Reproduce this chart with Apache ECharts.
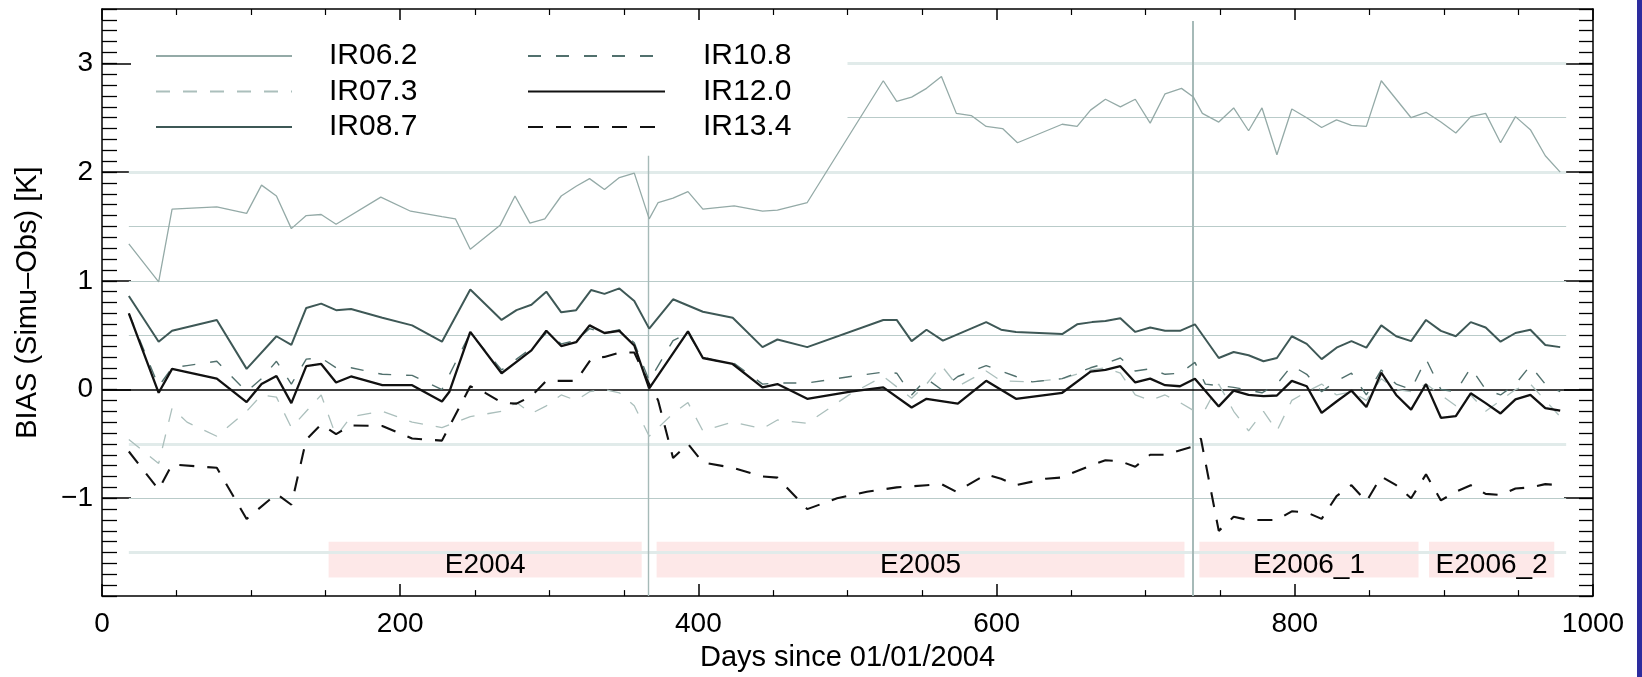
<!DOCTYPE html>
<html><head><meta charset="utf-8">
<script src="https://cdn.jsdelivr.net/npm/echarts@6/dist/echarts.min.js"></script>
<style>html,body{margin:0;padding:0;background:#fff}#c{width:1642px;height:677px}</style>
</head><body><div id="c"></div>
<script>
// ---------- data ----------
const seriesNames = ['IR06.2', 'IR07.3', 'IR08.7', 'IR10.8', 'IR12.0', 'IR13.4'];

const ir062 = [[18,1.34],[38,0.99],[47,1.66],[77,1.68],[97,1.62],[107,1.88],[117,1.78],[127,1.48],[137,1.6],[147,1.61],[157,1.52],[187,1.77],[207,1.64],[228,1.59],[237,1.57],[247,1.29],[267,1.51],[277,1.78],[287,1.53],[297,1.57],[308,1.78],[318,1.87],[327,1.94],[337,1.84],[347,1.95],[357,1.99],[367,1.57],[373,1.72],[383,1.76],[393,1.82],[403,1.66],[424,1.69],[443,1.64],[453,1.65],[473,1.72],[524,2.84],[533,2.65],[543,2.69],[553,2.77],[563,2.88],[573,2.54],[583,2.52],[593,2.42],[604,2.40],[614,2.27],[644,2.44],[654,2.42],[663,2.57],[673,2.67],[683,2.60],[693,2.67],[703,2.45],[713,2.72],[724,2.77],[732,2.69],[738,2.54],[749,2.46],[759,2.59],[769,2.38],[778,2.59],[788,2.16],[798,2.58],[808,2.50],[818,2.41],[828,2.48],[838,2.43],[848,2.42],[858,2.84],[868,2.67],[878,2.50],[888,2.55],[898,2.46],[908,2.36],[918,2.51],[928,2.54],[938,2.27],[948,2.51],[958,2.39],[968,2.15],[978,2.00]];

const ir073 = [[18,-0.46],[38,-0.68],[47,-0.17],[57,-0.3],[77,-0.43],[97,-0.2],[107,-0.05],[117,-0.07],[127,-0.35],[137,-0.2],[147,-0.05],[157,-0.43],[167,-0.25],[188,-0.2],[208,-0.3],[228,-0.35],[247,-0.25],[268,-0.2],[278,-0.12],[288,-0.22],[298,-0.15],[308,-0.05],[318,-0.1],[327,-0.02],[337,0.0],[347,-0.03],[357,-0.15],[367,-0.43],[383,-0.22],[393,-0.12],[403,-0.38],[423,-0.3],[443,-0.36],[453,-0.28],[473,-0.31],[502,-0.04],[524,0.12],[543,-0.08],[553,0.05],[563,0.22],[574,0.03],[593,0.17],[603,0.08],[624,0.07],[644,0.1],[663,0.18],[673,0.2],[683,0.15],[693,-0.05],[703,-0.1],[713,-0.05],[723,-0.12],[733,-0.2],[740,-0.18],[749,0.05],[759,-0.2],[769,-0.38],[779,-0.2],[788,-0.38],[798,-0.1],[808,-0.02],[818,0.05],[828,-0.05],[838,-0.02],[848,-0.1],[858,0.1],[868,0.0],[878,-0.02],[888,0.05],[898,-0.05],[908,-0.15],[918,-0.05],[928,-0.2],[938,-0.1],[948,0.0],[958,0.05],[968,-0.1],[978,-0.25]];

const ir087 = [[18,0.86],[38,0.44],[47,0.54],[77,0.64],[97,0.19],[117,0.49],[127,0.41],[137,0.75],[147,0.79],[157,0.73],[167,0.74],[188,0.66],[208,0.59],[228,0.44],[247,0.92],[268,0.64],[278,0.73],[288,0.78],[298,0.90],[308,0.71],[318,0.73],[328,0.915],[337,0.88],[347,0.93],[357,0.815],[367,0.56],[383,0.83],[403,0.715],[423,0.66],[443,0.39],[453,0.46],[473,0.39],[524,0.64],[533,0.64],[543,0.445],[553,0.55],[564,0.45],[593,0.62],[603,0.55],[613,0.53],[644,0.51],[654,0.60],[664,0.62],[673,0.63],[683,0.655],[693,0.53],[703,0.57],[713,0.54],[723,0.54],[733,0.60],[749,0.29],[759,0.345],[769,0.315],[779,0.26],[788,0.29],[798,0.49],[808,0.42],[818,0.28],[828,0.385],[838,0.445],[848,0.385],[858,0.59],[868,0.49],[878,0.445],[888,0.64],[898,0.54],[908,0.49],[918,0.62],[928,0.57],[938,0.44],[948,0.52],[958,0.55],[968,0.41],[978,0.39]];

const ir108 = [[18,0.70],[38,0.03],[47,0.2],[57,0.22],[67,0.24],[77,0.26],[97,-0.02],[107,0.1],[117,0.26],[127,0.05],[137,0.28],[147,0.29],[157,0.2],[167,0.2],[188,0.14],[208,0.13],[228,0.0],[247,0.52],[268,0.18],[278,0.28],[288,0.38],[298,0.52],[308,0.42],[318,0.45],[327,0.56],[337,0.52],[347,0.55],[357,0.43],[367,0.08],[383,0.45],[393,0.52],[403,0.3],[413,0.26],[423,0.25],[443,0.05],[453,0.06],[473,0.06],[502,0.12],[524,0.16],[533,0.15],[543,-0.05],[553,0.1],[563,0.0],[574,0.12],[593,0.22],[613,0.12],[624,0.07],[644,0.1],[663,0.2],[673,0.24],[683,0.29],[693,0.17],[703,0.19],[713,0.14],[723,0.15],[733,0.25],[740,0.05],[759,0.02],[778,-0.03],[788,0.05],[798,0.22],[808,0.14],[818,-0.02],[828,0.08],[838,0.15],[848,-0.05],[858,0.18],[868,0.05],[878,0.0],[888,0.28],[898,0.0],[908,-0.02],[918,0.2],[928,0.0],[938,-0.05],[948,0.05],[958,0.22],[968,0.05],[978,-0.02]];

const ir120 = [[18,0.70],[38,-0.03],[47,0.19],[77,0.10],[97,-0.115],[107,0.05],[117,0.125],[127,-0.125],[137,0.215],[147,0.235],[157,0.065],[167,0.12],[188,0.04],[208,0.04],[228,-0.11],[233,-0.02],[247,0.53],[268,0.15],[278,0.255],[288,0.36],[298,0.54],[308,0.40],[318,0.435],[327,0.59],[337,0.52],[347,0.54],[357,0.405],[367,0.01],[393,0.535],[403,0.29],[423,0.235],[443,0.02],[453,0.05],[473,-0.085],[502,-0.02],[524,0.02],[543,-0.165],[553,-0.085],[574,-0.13],[593,0.08],[613,-0.085],[644,-0.03],[663,0.165],[673,0.18],[683,0.215],[693,0.065],[703,0.10],[713,0.04],[723,0.03],[733,0.10],[749,-0.155],[759,-0.01],[769,-0.05],[779,-0.06],[788,-0.055],[798,0.08],[808,0.03],[818,-0.215],[828,-0.11],[838,-0.01],[848,-0.16],[858,0.155],[868,-0.05],[878,-0.185],[888,0.05],[898,-0.26],[908,-0.245],[918,-0.035],[928,-0.125],[938,-0.22],[948,-0.09],[958,-0.05],[968,-0.17],[978,-0.195]];

const ir134 = [[18,-0.57],[38,-0.92],[47,-0.69],[77,-0.72],[97,-1.19],[117,-0.96],[127,-1.06],[137,-0.46],[147,-0.32],[157,-0.41],[167,-0.33],[188,-0.335],[208,-0.45],[228,-0.47],[247,0.03],[257,-0.03],[268,-0.12],[278,-0.13],[288,-0.06],[298,0.08],[318,0.08],[328,0.28],[337,0.3],[347,0.34],[357,0.34],[367,0.05],[373,-0.1],[383,-0.63],[393,-0.5],[403,-0.67],[423,-0.72],[443,-0.8],[453,-0.81],[473,-1.1],[493,-1.0],[513,-0.94],[533,-0.9],[553,-0.88],[563,-0.87],[573,-0.94],[593,-0.78],[603,-0.82],[613,-0.88],[633,-0.82],[643,-0.81],[663,-0.7],[673,-0.65],[683,-0.66],[693,-0.71],[703,-0.6],[713,-0.6],[733,-0.52],[737,-0.45],[749,-1.3],[759,-1.17],[769,-1.2],[779,-1.2],[788,-1.2],[798,-1.12],[808,-1.13],[818,-1.19],[828,-0.98],[838,-0.88],[848,-1.03],[858,-0.8],[868,-0.88],[878,-1.0],[888,-0.78],[898,-1.02],[908,-0.94],[918,-0.88],[928,-0.96],[938,-0.97],[948,-0.91],[958,-0.9],[968,-0.87],[978,-0.88]];

const xTickValues = [0, 200, 400, 600, 800, 1000];
const yTickValues = [-1, 0, 1, 2, 3];

// reference (grid) lines: level, first day, last day
const gridLevels = [3, 2.5, 2, 1.5, 1, 0.5, -0.5, -1, -1.5];
const gridFrom   = [500, 500, 18, 18, 18, 18, 18, 18, 18];
const gridTo     = [982, 982, 982, 982, 982, 982, 982, 982, 982];
const gridHeavy  = [true, false, true, false, false, false, true, false, true];

// vertical year separators: day, top value
const sepDays = [366.5, 731.5];
const sepTops = [2.15, 3.39];

// campaign periods
const campaigns  = ['E2004', 'E2005', 'E2006_1', 'E2006_2'];
const campStart  = [152, 372, 736, 890];
const campEnd    = [362, 726, 883, 974];
const campLow = -1.73, campHigh = -1.40;

// ---------- chart ----------
const FONT = 'Liberation Sans';
const chart = echarts.init(document.getElementById('c'), null, {renderer: 'canvas'});

const styles = {
  'IR06.2': {color: '#94aaa7', width: 1.3, type: 'solid'},
  'IR07.3': {color: '#abbfbc', width: 1.3, type: [14, 13]},
  'IR08.7': {color: '#3e5856', width: 2.0, type: 'solid'},
  'IR10.8': {color: '#51706d', width: 1.4, type: [13, 15]},
  'IR12.0': {color: '#111111', width: 2.3, type: 'solid'},
  'IR13.4': {color: '#111111', width: 2.1, type: [15, 13]}
};
const dataMap = {'IR06.2': ir062, 'IR07.3': ir073, 'IR08.7': ir087, 'IR10.8': ir108, 'IR12.0': ir120, 'IR13.4': ir134};

const gridLineData = gridLevels.map((v, i) => [
  {coord: [gridFrom[i], v], lineStyle: gridHeavy[i] ? {color: '#e1ebea', width: 3.2, type: 'solid'} : {color: '#b9cbc9', width: 1.2, type: 'solid'}},
  {coord: [gridTo[i], v]}
]);
const sepData = sepDays.map((d, i) => [
  {coord: [d, sepTops[i]], lineStyle: {color: '#a6bab8', width: i === 0 ? 1.4 : 2, type: 'solid'}},
  {coord: [d, -1.9]}
]);
const zeroLine = [[{coord: [0, 0], lineStyle: {color: '#000', width: 1.5, type: 'solid'}}, {coord: [1000, 0]}]];

const bandData = campaigns.map((n, i) => [
  {name: n, coord: [campStart[i], campHigh]},
  {coord: [campEnd[i], campLow]}
]);

const dataSeries = seriesNames.map(n => ({
  name: n, type: 'line', data: dataMap[n], symbol: 'none', showSymbol: false,
  xAxisIndex: 0, yAxisIndex: 0, z: 5, animation: false,
  lineStyle: {color: styles[n].color, width: styles[n].width, type: styles[n].type},
  itemStyle: {color: styles[n].color}
}));

const minus = v => (v < 0 ? '\u2212' + Math.abs(v) : String(v));

const yCommon = {type: 'value', min: -1.9, max: 3.5, splitLine: {show: false}};
const xCommon = {type: 'value', min: 0, max: 1000, interval: 200, splitLine: {show: false}};

const option = {
  backgroundColor: '#ffffff',
  animation: false,
  grid: {left: 102, right: 49, top: 9, bottom: 76, containLabel: false},
  textStyle: {fontFamily: FONT},
  xAxis: [
    Object.assign({}, xCommon, {
      position: 'bottom',
      axisLine: {onZero: false, lineStyle: {color: '#000', width: 1.5}},
      axisTick: {inside: true, length: 12, lineStyle: {color: '#000', width: 1.5}},
      minorTick: {show: true, splitNumber: 4, length: 6, lineStyle: {color: '#000', width: 1.2}},
      axisLabel: {color: '#000', fontSize: 28, fontFamily: FONT, margin: 14, formatter: v => String(v)},
      name: 'Days since 01/01/2004', nameLocation: 'middle', nameGap: 44,
      nameTextStyle: {color: '#000', fontSize: 29, fontFamily: FONT}
    }),
    Object.assign({}, xCommon, {
      position: 'top',
      axisLine: {onZero: false, lineStyle: {color: '#000', width: 1.5}},
      axisTick: {inside: true, length: 11, lineStyle: {color: '#000', width: 1.5}},
      minorTick: {show: true, splitNumber: 4, length: 6, lineStyle: {color: '#000', width: 1.2}},
      axisLabel: {show: false}
    })
  ],
  yAxis: [
    Object.assign({}, yCommon, {
      position: 'left', interval: 0.1,
      axisLine: {onZero: false, lineStyle: {color: '#000', width: 1.5}},
      axisTick: {inside: true, length: 15, lineStyle: {color: '#000', width: 1.3}},
      axisLabel: {customValues: yTickValues, formatter: minus, color: '#000', fontSize: 28, fontFamily: FONT, margin: 9},
      name: 'BIAS (Simu\u2013Obs) [K]', nameLocation: 'middle', nameGap: 60, nameRotate: 90,
      nameTextStyle: {color: '#000', fontSize: 29, fontFamily: FONT}
    }),
    Object.assign({}, yCommon, {
      position: 'left', offset: -29,
      axisLine: {show: false, onZero: false},
      axisTick: {inside: false, length: 29, customValues: yTickValues, lineStyle: {color: '#000', width: 1.5}},
      axisLabel: {show: false}
    }),
    Object.assign({}, yCommon, {
      position: 'right', interval: 0.1,
      axisLine: {onZero: false, lineStyle: {color: '#000', width: 1.5}},
      axisTick: {inside: true, length: 14, lineStyle: {color: '#000', width: 1.3}},
      axisLabel: {show: false}
    }),
    Object.assign({}, yCommon, {
      position: 'right', offset: -29,
      axisLine: {show: false, onZero: false},
      axisTick: {inside: false, length: 29, customValues: yTickValues, lineStyle: {color: '#000', width: 1.5}},
      axisLabel: {show: false}
    })
  ],
  legend: [
    {
      data: seriesNames.slice(0, 3), orient: 'vertical', left: 150, top: 36,
      itemWidth: 136, itemHeight: 30, itemGap: 5.5,
      itemStyle: {opacity: 0},
      textStyle: {fontSize: 30, fontFamily: FONT, color: '#000', lineHeight: 30, padding: [0, 0, 0, 32]},
      selectedMode: false
    },
    {
      data: seriesNames.slice(3), orient: 'vertical', left: 522, top: 36,
      itemWidth: 137, itemHeight: 30, itemGap: 5.5,
      itemStyle: {opacity: 0},
      textStyle: {fontSize: 30, fontFamily: FONT, color: '#000', lineHeight: 30, padding: [0, 0, 0, 33]},
      selectedMode: false
    }
  ],
  series: [
    {
      name: 'refs', type: 'line', data: [], xAxisIndex: 0, yAxisIndex: 0, z: 1, silent: true,
      markArea: {
        silent: true, z: 1,
        itemStyle: {color: 'rgba(250,200,200,0.42)'},
        label: {show: true, position: 'inside', color: '#000', fontSize: 28, fontFamily: FONT, offset: [0, 6]},
        data: bandData
      },
      markLine: {
        silent: true, symbol: ['none', 'none'], label: {show: false}, animation: false,
        lineStyle: {type: 'solid'},
        data: gridLineData.concat(sepData, zeroLine)
      }
    }
  ].concat(dataSeries),
  graphic: [
    {type: 'rect', right: 0, top: 0, shape: {width: 5, height: 677}, style: {fill: '#2c2c9e'}, z: 100}
  ]
};
chart.setOption(option);
</script>
</body></html>
